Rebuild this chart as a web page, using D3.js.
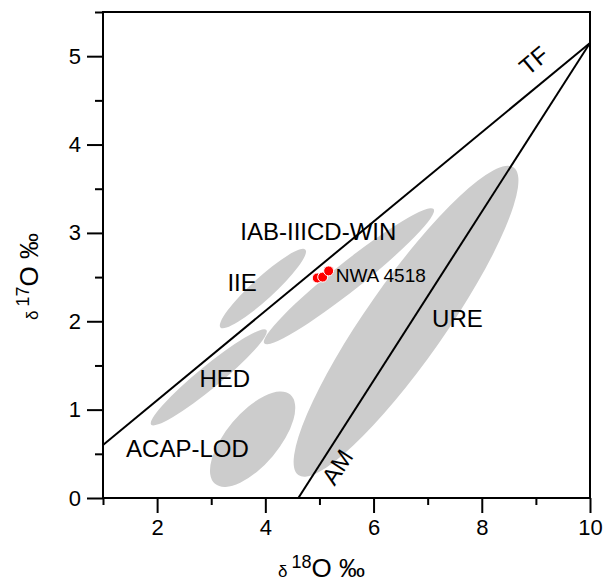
<!DOCTYPE html>
<html>
<head>
<meta charset="utf-8">
<script src="https://cdn.jsdelivr.net/npm/d3@7"></script>
<style>
  body { margin: 0; background: #fff; }
  text { font-family: "Liberation Sans", Arial, sans-serif; fill: #000; }
</style>
</head>
<body>
<svg width="613" height="583"></svg>
<script>
// axis ticks
const xTicks = [2, 4, 6, 8, 10];
const xMinor = [1, 3, 5, 7, 9];
const yTicks = [0, 1, 2, 3, 4, 5];
const yMinor = [0.5, 1.5, 2.5, 3.5, 4.5, 5.5];

// meteorite group fields: tips of the long axis and width ratio
const fieldNames = ["URE", "IAB-IIICD-WIN", "IIE", "HED", "ACAP-LOD"];
const fieldTipA = [[4.61, 0.26], [3.98, 1.75], [3.17, 1.93], [1.89, 0.83], [3.07, 0.16]];
const fieldTipB = [[8.59, 3.74], [7.11, 3.27], [4.74, 2.81], [4.02, 1.90], [4.46, 1.17]];
const fieldRatio = [0.21, 0.13, 0.19, 0.15, 0.45];
const fieldLabelAt = [[7.55, 1.93], [4.98, 2.92], [3.57, 2.34], [3.25, 1.26], [2.56, 0.46]];

// fractionation lines
const tfLine = [[1, 0.6], [10, 5.15]];
const amLine = [[4.61, 0], [10, 5.15]];

// NWA 4518 analyses
const nwaX = [4.96, 5.06, 5.17];
const nwaY = [2.49, 2.50, 2.57];

const svg = d3.select("svg");
const margin = {top: 12, right: 23, bottom: 85, left: 103};
const width = 613 - margin.left - margin.right;
const height = 583 - margin.top - margin.bottom;

const x = d3.scaleLinear().domain([1, 10]).range([margin.left, margin.left + width]);
const y = d3.scaleLinear().domain([0, 5.5]).range([margin.top + height, margin.top]);

svg.append("defs").append("clipPath").attr("id", "plot")
    .append("rect")
    .attr("x", margin.left).attr("y", margin.top)
    .attr("width", width).attr("height", height);

const plot = svg.append("g").attr("clip-path", "url(#plot)");

// Draw the grey fields
fieldNames.forEach((name, i) => {
    const ax = x(fieldTipA[i][0]), ay = y(fieldTipA[i][1]);
    const bx = x(fieldTipB[i][0]), by = y(fieldTipB[i][1]);
    const cx = (ax + bx) / 2, cy = (ay + by) / 2;
    const a = Math.hypot(bx - ax, by - ay) / 2;
    const angle = Math.atan2(by - ay, bx - ax) * 180 / Math.PI;
    plot.append("ellipse")
        .attr("cx", cx)
        .attr("cy", cy)
        .attr("rx", a)
        .attr("ry", a * fieldRatio[i])
        .attr("transform", `rotate(${angle}, ${cx}, ${cy})`)
        .attr("fill", "#cccccc");
});

// TF and AM lines
const line = d3.line().x(d => x(d[0])).y(d => y(d[1]));
[tfLine, amLine].forEach(l => {
    plot.append("path")
        .attr("d", line(l))
        .attr("fill", "none")
        .attr("stroke", "#000")
        .attr("stroke-width", 2);
});

// NWA 4518 points
nwaX.forEach((v, i) => {
    plot.append("circle")
        .attr("cx", x(v))
        .attr("cy", y(nwaY[i]))
        .attr("r", 5)
        .attr("fill", "#ff0000")
        .attr("stroke", "#fff")
        .attr("stroke-width", 1);
});

// Field labels
fieldNames.forEach((name, i) => {
    svg.append("text")
        .attr("x", x(fieldLabelAt[i][0]))
        .attr("y", y(fieldLabelAt[i][1]))
        .attr("text-anchor", "middle")
        .attr("font-size", 24)
        .text(name);
});

svg.append("text")
    .attr("x", x(5.30))
    .attr("y", y(2.45))
    .attr("font-size", 19)
    .text("NWA 4518");

// Line labels rotated along the lines
svg.append("text")
    .attr("transform", `translate(${x(8.96)}, ${y(4.95)}) rotate(-40)`)
    .attr("text-anchor", "middle")
    .attr("dy", "0.35em")
    .attr("font-size", 24)
    .text("TF");

svg.append("text")
    .attr("transform", `translate(${x(5.33)}, ${y(0.35)}) rotate(-57)`)
    .attr("text-anchor", "middle")
    .attr("dy", "0.35em")
    .attr("font-size", 24)
    .text("AM");

// Axes
const xAxis = svg.append("g").attr("transform", `translate(0, ${margin.top + height})`);
xAxis.call(d3.axisBottom(x).tickValues(xTicks).tickSize(15).tickPadding(6).tickFormat(d3.format("d")));
xAxis.append("g").call(d3.axisBottom(x).tickValues(xMinor).tickSize(7).tickFormat(""));

const yAxis = svg.append("g").attr("transform", `translate(${margin.left}, 0)`);
yAxis.call(d3.axisLeft(y).tickValues(yTicks).tickSize(16).tickPadding(6).tickFormat(d3.format("d")));
yAxis.append("g").call(d3.axisLeft(y).tickValues(yMinor).tickSize(8).tickFormat(""));

svg.selectAll(".domain").remove();
svg.selectAll(".tick line").attr("stroke", "#000").attr("stroke-width", 2);
svg.selectAll(".tick text")
    .attr("font-family", "'Liberation Sans', Arial, sans-serif")
    .attr("font-size", 22)
    .attr("fill", "#000");

// Frame
svg.append("rect")
    .attr("x", margin.left).attr("y", margin.top)
    .attr("width", width).attr("height", height)
    .attr("fill", "none")
    .attr("stroke", "#000")
    .attr("stroke-width", 2);

// Axis titles
const xTitle = svg.append("text")
    .attr("x", 278)
    .attr("y", 577);
xTitle.append("tspan").attr("font-size", 17).text("δ");
xTitle.append("tspan").attr("font-size", 18).attr("dx", 4).attr("dy", -9).text("18");
xTitle.append("tspan").attr("font-size", 26).attr("dy", 9).text("O ‰");

const yTitle = svg.append("text")
    .attr("transform", "translate(38, 320) rotate(-90)");
yTitle.append("tspan").attr("font-size", 17).text("δ");
yTitle.append("tspan").attr("font-size", 18).attr("dx", 4).attr("dy", -9).text("17");
yTitle.append("tspan").attr("font-size", 26).attr("dy", 9).text("O ‰");
</script>
</body>
</html>
